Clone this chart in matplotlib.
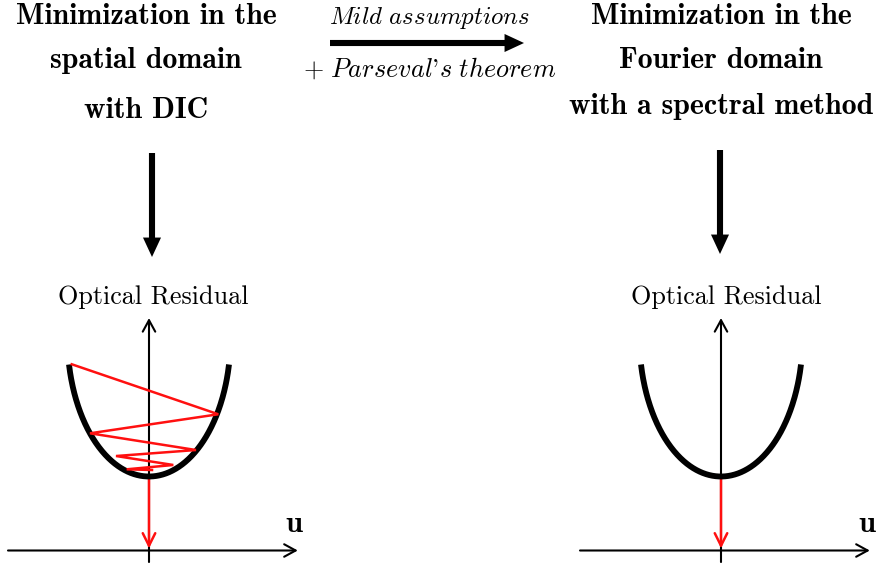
import numpy as np
import matplotlib
matplotlib.use("Agg")
import matplotlib.pyplot as plt
from matplotlib.patches import FancyArrowPatch

plt.rcParams["mathtext.fontset"] = "cm"

# ---------------- content ----------------
left_title = ["Minimization in the", "spatial domain", "with DIC"]
right_title = ["Minimization in the", "Fourier domain", "with a spectral method"]
arrow_top_text = r"$\mathit{Mild\ assumptions}$"
arrow_bottom_text = r"$+\ \mathit{Parseval}$'$\mathit{s\ theorem}$"
ylabel_text = "Optical Residual"
xlabel_text = "u"

# residual curve: lower part of an ellipse (schematic convex cost)
curve_u = np.linspace(-1.0, 1.0, 301)
curve_rmin = 0.925
curve_a = 1.02
curve_height = 1.4          # rise from minimum to the curve ends at |u| = 1
curve_b = curve_height / (1 - np.sqrt(1 - 1 / curve_a ** 2))

# DIC iterations (zig-zag) in (u, residual) units
zig_u = [-0.966, 0.866, -0.7375, 0.5875, -0.4125, 0.304, -0.279, 0.0375]
zig_r = [2.328, 1.703, 1.465, 1.256, 1.181, 1.069, 1.015, 1.006]

# final drop to the solution
drop_r_start = 0.925
drop_r_end = 0.025

# axes extents
u_axis = (-1.7625, 1.86)
r_axis = (-0.144, 2.906)

# ---------------- figure ----------------
W, H = 878, 563
fig = plt.figure(figsize=(W / 100, H / 100), dpi=100)
bg = fig.add_axes([0, 0, 1, 1])
bg.set_xlim(0, W)
bg.set_ylim(H, 0)
bg.axis("off")

S = 80.0
umin, umax, rmin, rmax = -1.9, 1.9, -0.2, 3.1


def panel(ox, oy):
    left = (ox + S * umin) / W
    bottom = (H - (oy - S * rmin)) / H
    ax = fig.add_axes([left, bottom, S * (umax - umin) / W, S * (rmax - rmin) / H])
    ax.set_xlim(umin, umax)
    ax.set_ylim(rmin, rmax)
    ax.axis("off")
    return ax


def draw_panel(ax, zigzag):
    axis_style = "->,head_length=0.55,head_width=0.3"
    ax.add_patch(FancyArrowPatch((u_axis[0], 0), (u_axis[1], 0), arrowstyle=axis_style,
                                 mutation_scale=15, lw=1.5, color="black",
                                 shrinkA=0, shrinkB=0, clip_on=False, zorder=2))
    ax.add_patch(FancyArrowPatch((0, r_axis[0]), (0, r_axis[1]), arrowstyle=axis_style,
                                 mutation_scale=15, lw=1.5, color="black",
                                 shrinkA=0, shrinkB=0, clip_on=False, zorder=2))
    curve_r = curve_rmin + curve_b * (1 - np.sqrt(1 - (curve_u / curve_a) ** 2))
    ax.plot(curve_u, curve_r, color="black", lw=4.2, solid_capstyle="butt", zorder=4,
            clip_on=False)
    if zigzag:
        ax.plot(zig_u, zig_r, color="#ff1010", lw=1.8, zorder=5, clip_on=False,
                solid_joinstyle="miter")
    ax.add_patch(FancyArrowPatch((0, drop_r_start), (0, drop_r_end),
                                 arrowstyle="->,head_length=0.6,head_width=0.3",
                                 mutation_scale=15, lw=1.8, color="#ff1010",
                                 shrinkA=0, shrinkB=0, clip_on=False, zorder=3))


axL = panel(149, 550.5)
draw_panel(axL, True)
axR = panel(721, 550.5)
draw_panel(axR, False)

# big black arrows
big = "simple,head_length=0.7,head_width=0.65,tail_width=0.22"
for (x0, y0), (x1, y1) in [((152, 153), (152, 257)), ((720, 150), (720, 254)),
                           ((330, 43), (524, 43))]:
    bg.add_patch(FancyArrowPatch((x0, y0), (x1, y1), arrowstyle=big, mutation_scale=20,
                                 lw=0, color="black", shrinkA=0, shrinkB=0))

# titles
for txt, y in zip(left_title, [16, 60, 110]):
    bg.text(146, y, txt, family="cmb10", fontsize=21.5, ha="center", va="center")
for txt, y in zip(right_title, [16, 60, 107]):
    bg.text(721, y, txt, family="cmb10", fontsize=21.5, ha="center", va="center")

bg.text(429, 18, arrow_top_text, fontsize=17.8, ha="center", va="center")
bg.text(430, 69, arrow_bottom_text, family="cmr10", fontsize=18.8, ha="center",
        va="center")

for x in (153, 726):
    bg.text(x, 297, ylabel_text, family="cmr10", fontsize=18.8, ha="center", va="center")
for x in (294, 867):
    bg.text(x, 524, xlabel_text, family="cmb10", fontsize=22, ha="center", va="center")

fig.savefig("out.png", dpi=100)
